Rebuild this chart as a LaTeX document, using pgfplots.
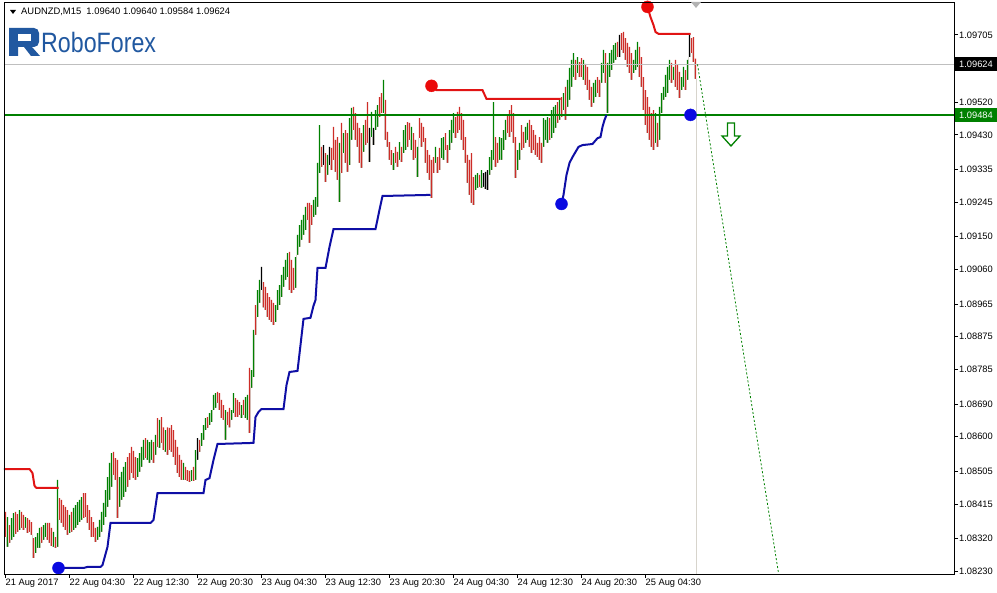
\documentclass[border=0pt]{standalone}
\usepackage{pgfplots}
\pgfplotsset{compat=1.18}
\usepackage{pgfplotstable}
\usepackage{fontspec}
\setmainfont{Liberation Sans}

\definecolor{upg}{RGB}{0,128,0}
\definecolor{dnr}{RGB}{205,45,40}
\definecolor{indr}{RGB}{225,20,20}
\definecolor{indb}{RGB}{15,15,165}
\definecolor{dotr}{RGB}{235,10,10}
\definecolor{dotb}{RGB}{10,10,225}
\definecolor{lgreen}{RGB}{0,128,0}
\definecolor{logob}{RGB}{33,88,160}

\pgfplotstableread{
i h l c
0 1.08393 1.08324 0
1 1.08379 1.08297 1
2 1.08357 1.08308 0
3 1.08376 1.08316 1
4 1.08390 1.08324 1
5 1.08393 1.08332 0
6 1.08387 1.08338 0
7 1.08398 1.08343 1
8 1.08393 1.08349 0
9 1.08385 1.08343 0
10 1.08379 1.08349 1
11 1.08376 1.08335 0
12 1.08371 1.08338 0
13 1.08365 1.08330 0
14 1.08321 1.08266 0
15 1.08324 1.08280 1
16 1.08335 1.08294 1
17 1.08349 1.08294 1
18 1.08352 1.08308 0
19 1.08357 1.08316 1
20 1.08363 1.08324 1
21 1.08363 1.08316 0
22 1.08363 1.08308 0
23 1.08349 1.08299 0
24 1.08338 1.08297 1
25 1.08324 1.08294 0
26 1.08481 1.08297 1
27 1.08431 1.08371 0
28 1.08426 1.08363 0
29 1.08412 1.08352 0
30 1.08407 1.08343 0
31 1.08398 1.08330 0
32 1.08385 1.08335 1
33 1.08393 1.08338 0
34 1.08404 1.08343 1
35 1.08412 1.08349 1
36 1.08420 1.08357 1
37 1.08426 1.08365 1
38 1.08434 1.08371 1
39 1.08445 1.08376 0
40 1.08445 1.08379 0
41 1.08412 1.08363 0
42 1.08398 1.08343 0
43 1.08379 1.08324 0
44 1.08365 1.08324 0
45 1.08349 1.08310 0
46 1.08352 1.08316 1
47 1.08371 1.08324 1
48 1.08393 1.08338 1
49 1.08418 1.08357 1
50 1.08453 1.08379 1
51 1.08489 1.08407 1
52 1.08528 1.08426 1
53 1.08555 1.08462 1
54 1.08558 1.08495 0
55 1.08541 1.08481 0
56 1.08536 1.08376 0
57 1.08489 1.08407 1
58 1.08503 1.08426 1
59 1.08517 1.08434 1
60 1.08530 1.08448 1
61 1.08544 1.08462 0
62 1.08555 1.08481 0
63 1.08572 1.08500 0
64 1.08561 1.08486 0
65 1.08544 1.08481 0
66 1.08541 1.08489 1
67 1.08555 1.08503 1
68 1.08572 1.08517 1
69 1.08591 1.08536 1
70 1.08596 1.08541 0
71 1.08591 1.08536 1
72 1.08585 1.08528 1
73 1.08591 1.08536 1
74 1.08585 1.08528 0
75 1.08605 1.08550 1
76 1.08651 1.08572 0
77 1.08646 1.08569 1
78 1.08654 1.08583 0
79 1.08626 1.08563 0
80 1.08618 1.08558 1
81 1.08626 1.08550 0
82 1.08624 1.08563 0
83 1.08632 1.08558 0
84 1.08618 1.08544 0
85 1.08591 1.08522 0
86 1.08572 1.08500 0
87 1.08550 1.08489 0
88 1.08536 1.08481 0
89 1.08528 1.08481 1
90 1.08517 1.08481 0
91 1.08508 1.08478 0
92 1.08506 1.08475 0
93 1.08508 1.08478 1
94 1.08517 1.08478 0
95 1.08563 1.08481 1
96 1.08596 1.08536 2
97 1.08591 1.08558 0
98 1.08610 1.08574 1
99 1.08632 1.08591 1
100 1.08651 1.08618 1
101 1.08654 1.08624 0
102 1.08665 1.08632 1
103 1.08673 1.08640 1
104 1.08715 1.08673 1
105 1.08720 1.08679 1
106 1.08723 1.08693 0
107 1.08720 1.08673 0
108 1.08701 1.08651 0
109 1.08687 1.08646 0
110 1.08673 1.08591 1
111 1.08668 1.08632 0
112 1.08679 1.08626 0
113 1.08673 1.08646 1
114 1.08720 1.08665 1
115 1.08706 1.08654 0
116 1.08701 1.08654 0
117 1.08695 1.08660 0
118 1.08687 1.08651 1
119 1.08701 1.08660 0
120 1.08709 1.08651 1
121 1.08715 1.08646 1
122 1.08789 1.08610 0
123 1.08783 1.08734 1
124 1.08894 1.08764 1
125 1.08962 1.08880 0
126 1.09003 1.08929 1
127 1.09031 1.08968 1
128 1.09067 1.09003 2
129 1.09025 1.08956 0
130 1.09012 1.08948 0
131 1.08995 1.08929 0
132 1.08984 1.08921 0
133 1.08976 1.08915 0
134 1.08968 1.08907 0
135 1.08962 1.08915 1
136 1.09003 1.08948 1
137 1.09017 1.08962 1
138 1.09045 1.08984 1
139 1.09067 1.09012 1
140 1.09086 1.09031 1
141 1.09105 1.09039 1
142 1.09108 1.09003 0
143 1.09086 1.08995 0
144 1.09064 1.09003 0
145 1.09094 1.09009 1
146 1.09155 1.09100 1
147 1.09182 1.09122 1
148 1.09196 1.09141 1
149 1.09210 1.09155 1
150 1.09232 1.09168 1
151 1.09243 1.09196 0
152 1.09243 1.09133 0
153 1.09237 1.09182 0
154 1.09251 1.09204 1
155 1.09259 1.09210 1
156 1.09353 1.09232 1
157 1.09457 1.09325 1
158 1.09397 1.09342 0
159 1.09402 1.09347 2
160 1.09380 1.09300 0
161 1.09375 1.09320 1
162 1.09397 1.09347 2
163 1.09394 1.09333 0
164 1.09452 1.09361 0
165 1.09416 1.09328 0
166 1.09424 1.09306 0
167 1.09408 1.09245 1
168 1.09463 1.09325 0
169 1.09435 1.09380 1
170 1.09443 1.09353 0
171 1.09435 1.09328 0
172 1.09476 1.09347 1
173 1.09504 1.09416 1
174 1.09507 1.09443 0
175 1.09490 1.09416 0
176 1.09463 1.09397 0
177 1.09449 1.09353 0
178 1.09435 1.09339 0
179 1.09457 1.09383 1
180 1.09471 1.09402 0
181 1.09520 1.09408 0
182 1.09449 1.09355 2
183 1.09493 1.09424 1
184 1.09449 1.09402 2
185 1.09498 1.09443 1
186 1.09512 1.09452 1
187 1.09534 1.09479 0
188 1.09545 1.09490 0
189 1.09581 1.09490 1
190 1.09526 1.09416 0
191 1.09438 1.09397 0
192 1.09410 1.09361 0
193 1.09388 1.09347 0
194 1.09380 1.09333 1
195 1.09397 1.09353 0
196 1.09383 1.09342 0
197 1.09410 1.09361 1
198 1.09397 1.09355 0
199 1.09443 1.09380 1
200 1.09457 1.09388 1
201 1.09465 1.09397 0
202 1.09463 1.09416 0
203 1.09452 1.09388 1
204 1.09435 1.09361 0
205 1.09416 1.09366 0
206 1.09397 1.09314 1
207 1.09476 1.09421 0
208 1.09463 1.09397 0
209 1.09452 1.09410 0
210 1.09421 1.09353 0
211 1.09388 1.09325 0
212 1.09375 1.09306 0
213 1.09361 1.09256 0
214 1.09369 1.09325 0
215 1.09397 1.09353 1
216 1.09369 1.09325 0
217 1.09394 1.09333 0
218 1.09421 1.09366 1
219 1.09424 1.09361 1
220 1.09435 1.09388 0
221 1.09402 1.09353 0
222 1.09443 1.09388 1
223 1.09471 1.09408 1
224 1.09490 1.09435 1
225 1.09479 1.09421 0
226 1.09493 1.09435 0
227 1.09507 1.09443 0
228 1.09490 1.09416 0
229 1.09471 1.09388 0
230 1.09424 1.09353 0
231 1.09375 1.09298 0
232 1.09361 1.09265 0
233 1.09380 1.09243 0
234 1.09314 1.09237 0
235 1.09320 1.09278 1
236 1.09325 1.09284 1
237 1.09320 1.09287 0
238 1.09333 1.09284 1
239 1.09325 1.09287 2
240 1.09328 1.09281 2
241 1.09333 1.09278 2
242 1.09369 1.09320 1
243 1.09388 1.09333 1
244 1.09520 1.09361 1
245 1.09424 1.09342 0
246 1.09408 1.09353 0
247 1.09424 1.09361 1
248 1.09421 1.09361 1
249 1.09443 1.09388 1
250 1.09471 1.09416 1
251 1.09485 1.09435 0
252 1.09498 1.09424 0
253 1.09512 1.09438 0
254 1.09490 1.09408 0
255 1.09424 1.09311 0
256 1.09388 1.09333 1
257 1.09408 1.09361 1
258 1.09457 1.09388 0
259 1.09438 1.09394 0
260 1.09452 1.09408 1
261 1.09463 1.09416 1
262 1.09471 1.09397 0
263 1.09457 1.09380 0
264 1.09443 1.09388 0
265 1.09430 1.09375 0
266 1.09408 1.09369 0
267 1.09424 1.09361 0
268 1.09408 1.09353 0
269 1.09476 1.09397 1
270 1.09471 1.09416 1
271 1.09479 1.09408 1
272 1.09476 1.09416 0
273 1.09498 1.09421 1
274 1.09507 1.09435 1
275 1.09512 1.09449 1
276 1.09520 1.09463 0
277 1.09531 1.09471 1
278 1.09534 1.09479 0
279 1.09545 1.09498 1
280 1.09562 1.09471 0
281 1.09581 1.09507 1
282 1.09614 1.09526 1
283 1.09636 1.09562 1
284 1.09655 1.09589 1
285 1.09636 1.09581 0
286 1.09644 1.09600 1
287 1.09630 1.09589 0
288 1.09641 1.09589 0
289 1.09636 1.09581 1
290 1.09625 1.09567 0
291 1.09617 1.09553 0
292 1.09581 1.09526 0
293 1.09562 1.09507 0
294 1.09573 1.09518 1
295 1.09581 1.09534 1
296 1.09589 1.09545 0
297 1.09581 1.09534 0
298 1.09628 1.09573 1
299 1.09664 1.09600 1
300 1.09655 1.09573 0
301 1.09628 1.09490 1
302 1.09655 1.09589 1
303 1.09664 1.09608 1
304 1.09677 1.09628 1
305 1.09683 1.09636 1
306 1.09686 1.09644 0
307 1.09705 1.09644 2
308 1.09710 1.09664 0
309 1.09713 1.09655 0
310 1.09696 1.09636 0
311 1.09683 1.09617 0
312 1.09672 1.09600 0
313 1.09655 1.09581 0
314 1.09636 1.09600 1
315 1.09664 1.09608 1
316 1.09686 1.09617 1
317 1.09672 1.09589 0
318 1.09644 1.09562 0
319 1.09589 1.09498 0
320 1.09553 1.09457 0
321 1.09534 1.09435 0
322 1.09507 1.09416 0
323 1.09490 1.09397 0
324 1.09498 1.09388 0
325 1.09490 1.09408 1
326 1.09463 1.09397 0
327 1.09507 1.09416 1
328 1.09545 1.09490 1
329 1.09562 1.09526 1
330 1.09595 1.09534 1
331 1.09617 1.09545 1
332 1.09636 1.09581 1
333 1.09628 1.09573 0
334 1.09617 1.09581 1
335 1.09636 1.09562 0
336 1.09622 1.09553 0
337 1.09603 1.09531 0
338 1.09589 1.09553 1
339 1.09617 1.09562 1
340 1.09608 1.09553 0
341 1.09636 1.09581 1
342 1.09710 1.09644 2
343 1.09696 1.09655 0
344 1.09699 1.09630 0
345 1.09640 1.09584 0
}\bars

\begin{document}
\begin{tikzpicture}
\useasboundingbox (0,0) rectangle (997pt,593pt);
\begin{axis}[
  at={(4pt,19pt)}, anchor=south west,
  scale only axis, width=950pt, height=572pt,
  xmin=-0.75, xmax=474.25, ymin=1.082225, ymax=1.097955,
  axis on top,
  axis line style={black, line width=0.8pt},
  tick align=outside, major tick length=4pt,
  tick style={black, line width=0.8pt},
  scaled y ticks=false, scaled x ticks=false,
  xtick={0,32,64,96,128,160,192,224,256,288,320},
  xticklabels={21 Aug 2017,22 Aug 04:30,22 Aug 12:30,22 Aug 20:30,23 Aug 04:30,23 Aug 12:30,23 Aug 20:30,24 Aug 04:30,24 Aug 12:30,24 Aug 20:30,25 Aug 04:30},
  xtick pos=bottom,
  xticklabel style={anchor=north west, inner sep=0pt, yshift=-1pt, font=\fontsize{9.3}{10}\selectfont},
  ytick={1.09705,1.09520,1.09430,1.09335,1.09245,1.09150,1.09060,1.08965,1.08875,1.08785,1.08690,1.08600,1.08505,1.08415,1.08320,1.08230},
  yticklabels={1.09705,1.09520,1.09430,1.09335,1.09245,1.09150,1.09060,1.08965,1.08875,1.08785,1.08690,1.08600,1.08505,1.08415,1.08320,1.08230},
  ytick pos=right, yticklabel pos=right,
  yticklabel style={anchor=west, inner sep=0pt, xshift=1pt, font=\fontsize{9.3}{10}\selectfont},
  clip mode=individual,
]
% bars: each colour rises to the high only where it matches column c (0 down, 1 up, 2 neutral)
\addplot[ybar, bar width=1.1pt, bar shift=0pt, fill=upg, draw=none]
  table[x=i, y expr={\thisrow{c}==1 ? \thisrow{h} : \thisrow{l}}] {\bars};
\addplot[ybar, bar width=1.1pt, bar shift=0pt, fill=dnr, draw=none]
  table[x=i, y expr={\thisrow{c}==0 ? \thisrow{h} : \thisrow{l}}] {\bars};
\addplot[ybar, bar width=1.1pt, bar shift=0pt, fill=black, draw=none]
  table[x=i, y expr={\thisrow{c}==2 ? \thisrow{h} : \thisrow{l}}] {\bars};
% white below each low
\addplot[ybar, bar width=1.7pt, bar shift=0pt, fill=white, draw=none]
  table[x=i, y=l] {\bars};
% bid line
\addplot[gray!50, line width=0.6pt] coordinates {(-0.75,1.09624) (474.25,1.09624)};
% level line
\addplot[lgreen, line width=1.8pt] coordinates {(-0.75,1.09484) (474.25,1.09484)};
% projection
\addplot[lgreen, line width=0.8pt, dash pattern=on 2pt off 2pt] coordinates {(346,1.09624) (386.5,1.08225)};
% red indicator
\addplot[indr, line width=2pt] coordinates {(-0.75,1.08511)(12,1.08511)(13.5,1.08500)(14.5,1.08465)(15.5,1.08459)(26.5,1.08459)};
\addplot[indr, line width=2pt] coordinates {(213,1.09565)(215.5,1.09553)(238.5,1.09553)(240.5,1.09529)(277.5,1.09529)};
\addplot[indr, line width=2pt] coordinates {(321,1.09782)(322.5,1.09754)(324,1.09732)(325,1.09713)(326.5,1.09708)(342.5,1.09708)};
% blue indicator
\addplot[indb, line width=2pt] coordinates {(26.5,1.08239)(39,1.08239)(41,1.08242)(47.5,1.08242)(48.5,1.08247)(51,1.08297)(52.5,1.08363)(72.5,1.08363)(74,1.08371)(76,1.08445)(99,1.08445)(100,1.08481)(102,1.08486)(104,1.08536)(106,1.08580)(124,1.08583)(125,1.08654)(126.5,1.08668)(128,1.08676)(139,1.08676)(140.5,1.08742)(142,1.08778)(146,1.08781)(147.5,1.08852)(149,1.08924)(152.5,1.08927)(154,1.08960)(155,1.08976)(156,1.09064)(160,1.09064)(162,1.09122)(164,1.09171)(185,1.09171)(187,1.09224)(188.5,1.09262)(212.5,1.09265)};
\addplot[indb, line width=2pt] coordinates {(278,1.09240)(279,1.09265)(280.5,1.09320)(282,1.09353)(283.5,1.09369)(286.5,1.09397)(288.5,1.09402)(293.5,1.09405)(296,1.09421)(297.5,1.09424)(298.5,1.09452)(299.5,1.09471)(300.5,1.09485)};
% fractal dots
\addplot[only marks, mark=*, mark size=6pt, dotr, mark options={draw=dotr, fill=dotr}] coordinates {(213,1.09565)(321,1.09782)};
\addplot[only marks, mark=*, mark size=6pt, dotb, mark options={draw=dotb, fill=dotb}] coordinates {(26.5,1.08239)(278,1.09240)(342.5,1.09485)};
% price labels
\node[fill=black, text=white, anchor=west, inner xsep=5pt, inner ysep=0pt, minimum height=14pt, font=\fontsize{9.3}{10}\selectfont] at (axis cs:474.25,1.09624) {1.09624};
\node[fill=lgreen, text=white, anchor=west, inner xsep=5pt, inner ysep=0pt, minimum height=14pt, font=\fontsize{9.3}{10}\selectfont] at (axis cs:474.25,1.09484) {1.09484};
\end{axis}
\begin{scope}[x=1pt, y=-1pt, shift={(0pt,593pt)}]
  % title
  \fill[black] (10,10)--(16,10)--(13,14)--cycle;
  \node[anchor=west, inner sep=0pt, font=\fontsize{9.4}{10}\selectfont] at (21,12) {AUDNZD,M15\ \ 1.09640 1.09640 1.09584 1.09624};
  % logo
  \fill[logob] (9,28) -- (34,28) to[out=0,in=90] (39,33) -- (39,42) to[out=-90,in=0] (34,47) -- (18,47) -- (18,56) -- (9,56) -- cycle;
  \fill[white] (18,34) rectangle (31,41);
  \fill[logob] (24,47) -- (32,47) -- (40,56) -- (31,56) -- cycle;
  \node[anchor=base west, inner sep=0pt, text=logob, font=\fontsize{28}{28}\selectfont, xscale=0.83] at (41,53) {RoboForex};
  % arrow
  \draw[lgreen, line width=1.3pt, line join=miter] (727.5,123)--(734.5,123)--(734.5,136)--(740,136)--(731,146)--(722,136)--(727.5,136)--cycle;
  % shift marker
  \fill[gray!60] (691,2)--(701,2)--(696,8)--cycle;
\end{scope}
\end{tikzpicture}
\end{document}
